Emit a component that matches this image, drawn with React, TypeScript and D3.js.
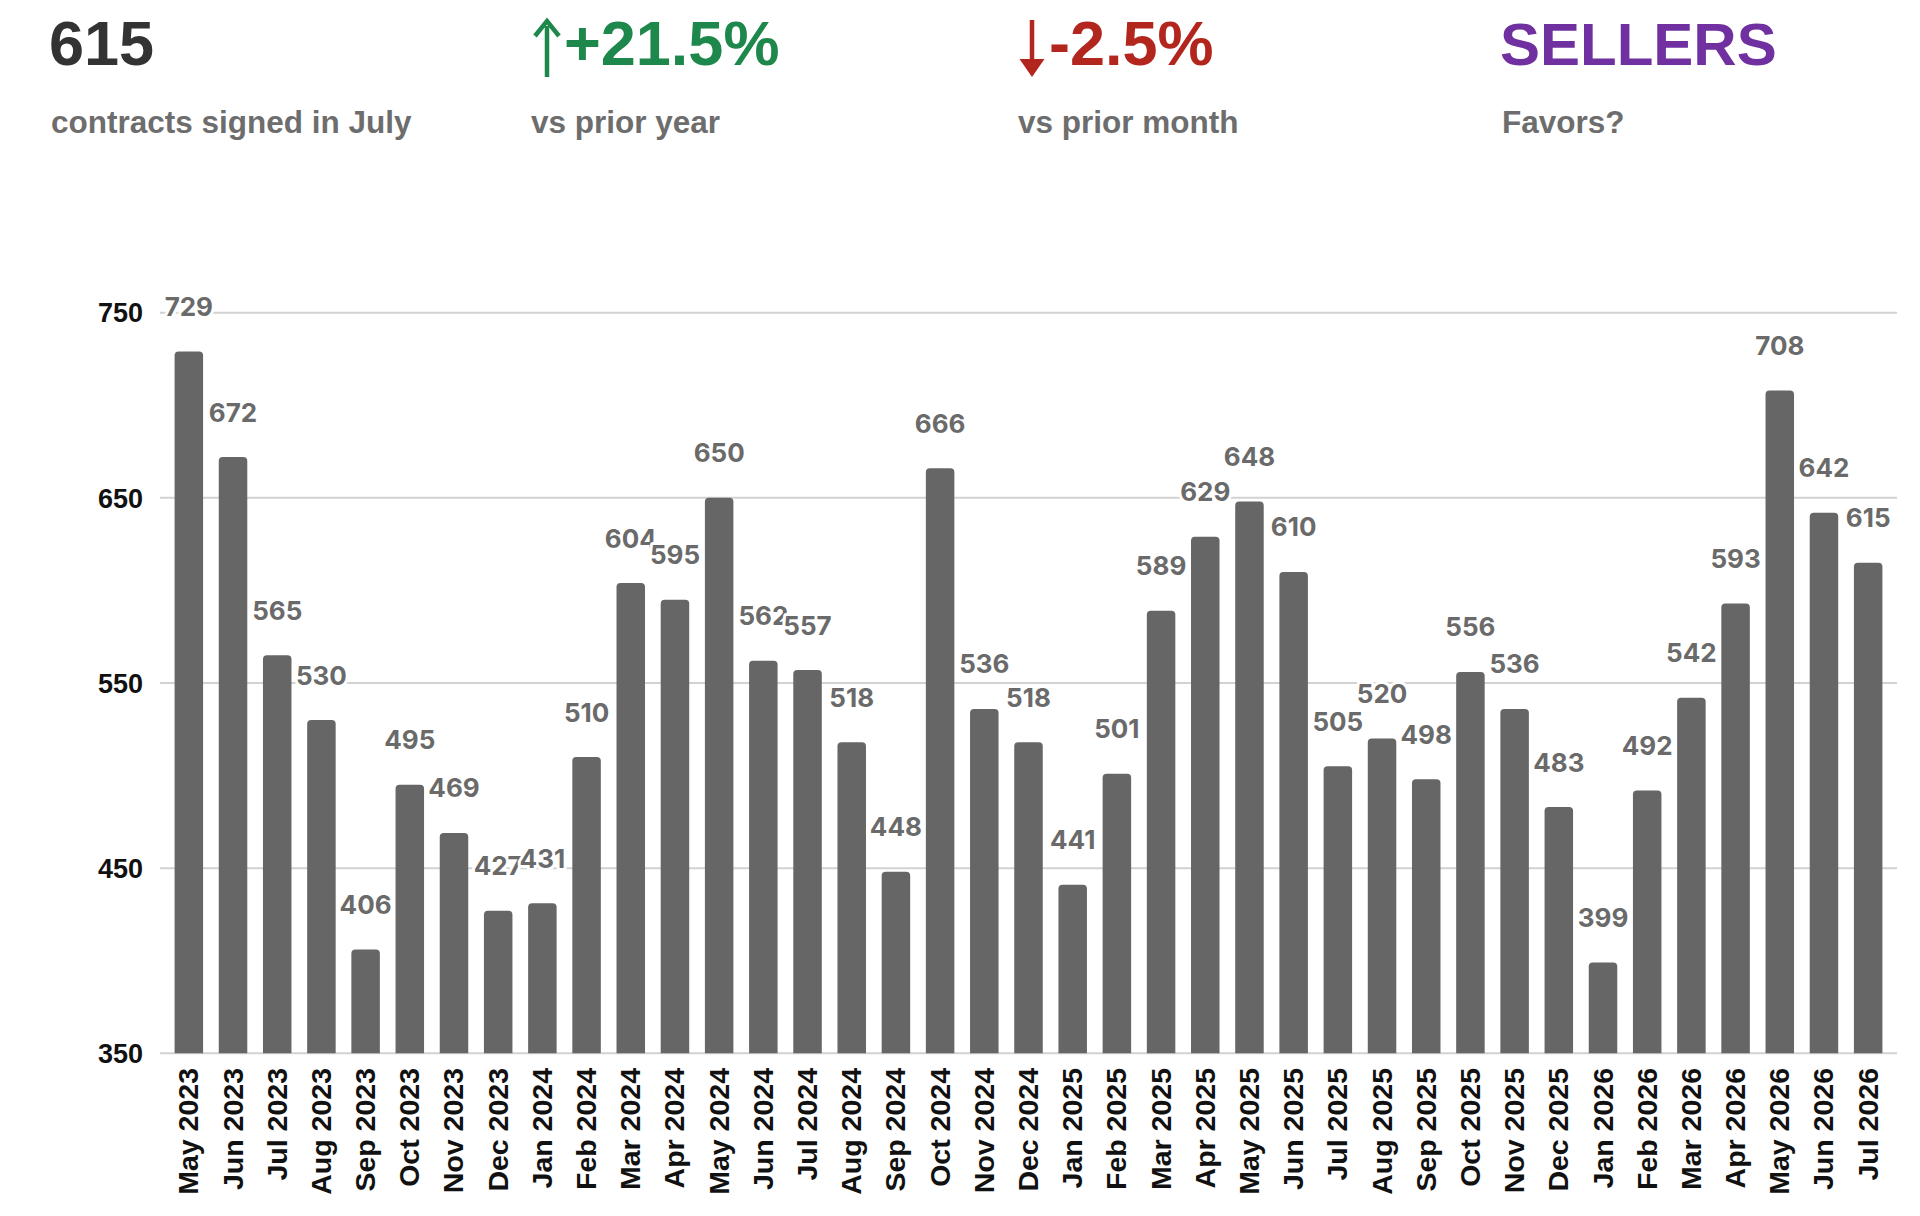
import { useEffect, useRef } from "react";
import * as d3 from "d3";

const months = [
  "May 2023", "Jun 2023", "Jul 2023", "Aug 2023", "Sep 2023", "Oct 2023", "Nov 2023", "Dec 2023",
  "Jan 2024", "Feb 2024", "Mar 2024", "Apr 2024", "May 2024", "Jun 2024", "Jul 2024", "Aug 2024",
  "Sep 2024", "Oct 2024", "Nov 2024", "Dec 2024",
  "Jan 2025", "Feb 2025", "Mar 2025", "Apr 2025", "May 2025", "Jun 2025", "Jul 2025", "Aug 2025",
  "Sep 2025", "Oct 2025", "Nov 2025", "Dec 2025",
  "Jan 2026", "Feb 2026", "Mar 2026", "Apr 2026", "May 2026", "Jun 2026", "Jul 2026",
];

const contracts = [
  729, 672, 565, 530, 406, 495, 469, 427,
  431, 510, 604, 595, 650, 562, 557, 518, 448, 666, 536, 518,
  441, 501, 589, 629, 648, 610, 505, 520, 498, 556, 536, 483,
  399, 492, 542, 593, 708, 642, 615,
];

const yTicks = [350, 450, 550, 650, 750];

const headline = [
  { value: "615", caption: "contracts signed in July", color: "#333333", arrow: "" },
  { value: "+21.5%", caption: "vs prior year", color: "#1e874b", arrow: "up" },
  { value: "-2.5%", caption: "vs prior month", color: "#b3261e", arrow: "down" },
  { value: "SELLERS", caption: "Favors?", color: "#7030a0", arrow: "" },
];

const WIDTH = 1920;
const HEIGHT = 1216;

const Chart = () => {
  const svgRef = useRef<SVGSVGElement | null>(null);

  useEffect(() => {
    const svg = d3.select(svgRef.current);
    svg.selectAll("*").remove();

    const left = 160;
    const right = 1897;
    const top = 312.7;
    const bottom = 1053.3;

    const x = d3
      .scaleBand<string>()
      .domain(months)
      .range([left, right])
      .paddingInner(0.355)
      .paddingOuter(0.33);

    const y = d3.scaleLinear().domain([350, 750]).range([bottom, top]);

    // header stats
    const colX = [49, 564, 1049, 1500];
    const capX = [51, 531, 1018, 1502];
    const head = svg.append("g").attr("font-family", "'Liberation Sans', Arial, sans-serif").attr("font-weight", 700);
    headline.forEach((h, i) => {
      head
        .append("text")
        .attr("x", colX[i])
        .attr("y", 65)
        .attr("font-size", i === 3 ? 60 : 63)
        .attr("fill", h.color)
        .text(h.value);
      head
        .append("text")
        .attr("x", capX[i])
        .attr("y", 133)
        .attr("font-size", 31.5)
        .attr("fill", "#6d6d6d")
        .text(h.caption);
      if (h.arrow === "up") {
        const ax = 547;
        head.append("line").attr("x1", ax).attr("x2", ax).attr("y1", 77).attr("y2", 26)
          .attr("stroke", h.color).attr("stroke-width", 4.5);
        head.append("path").attr("d", `M${ax - 12},36 L${ax},21 L${ax + 12},36`)
          .attr("fill", "none").attr("stroke", h.color).attr("stroke-width", 4.5);
      }
      if (h.arrow === "down") {
        const ax = 1032;
        head.append("line").attr("x1", ax).attr("x2", ax).attr("y1", 20).attr("y2", 70)
          .attr("stroke", h.color).attr("stroke-width", 4.5);
        head.append("path").attr("d", `M${ax - 12.5},59 L${ax},77 L${ax + 12.5},59 Z`)
          .attr("fill", h.color);
      }
    });

    // gridlines
    svg
      .append("g")
      .selectAll("line")
      .data(yTicks)
      .join("line")
      .attr("x1", left)
      .attr("x2", right)
      .attr("y1", (d) => y(d))
      .attr("y2", (d) => y(d))
      .attr("stroke", "#d2d2d2")
      .attr("stroke-width", 2);

    // y tick labels
    svg
      .append("g")
      .selectAll("text")
      .data(yTicks)
      .join("text")
      .attr("x", 143)
      .attr("y", (d) => y(d))
      .attr("dy", "0.36em")
      .attr("text-anchor", "end")
      .attr("font-family", "'Liberation Sans', Arial, sans-serif")
      .attr("font-weight", 700)
      .attr("font-size", 27)
      .attr("fill", "#111")
      .text((d) => d);

    // bars with rounded tops
    const r = 4;
    const bw = x.bandwidth();
    svg
      .append("g")
      .selectAll("path")
      .data(contracts)
      .join("path")
      .attr("fill", "#666666")
      .attr("d", (d, i) => {
        const x0 = x(months[i]) as number;
        const x1 = x0 + bw;
        const yt = y(d);
        return `M${x0},${bottom} L${x0},${yt + r} Q${x0},${yt} ${x0 + r},${yt} L${x1 - r},${yt} Q${x1},${yt} ${x1},${yt + r} L${x1},${bottom} Z`;
      });

    // value labels
    svg
      .append("g")
      .selectAll("text")
      .data(contracts)
      .join("text")
      .attr("x", (_, i) => (x(months[i]) as number) + bw / 2)
      .attr("y", (d) => y(d) - 35.5)
      .attr("text-anchor", "middle")
      .attr("font-family", "Inter, Roboto, sans-serif")
      .attr("font-weight", 700)
      .attr("font-size", 26)
      .attr("fill", "#6a6a6a")
      .attr("stroke", "#ffffff")
      .attr("stroke-width", 6)
      .attr("stroke-linejoin", "round")
      .attr("paint-order", "stroke")
      .text((d) => d);

    // x labels
    svg
      .append("g")
      .selectAll("text")
      .data(months)
      .join("text")
      .attr("transform", (d) => `translate(${(x(d) as number) + bw / 2 + 9.5},1068) rotate(-90)`)
      .attr("text-anchor", "end")
      .attr("font-family", "'Liberation Sans', Arial, sans-serif")
      .attr("font-weight", 700)
      .attr("font-size", 28.5)
      .attr("fill", "#111")
      .text((d) => d);
  }, []);

  return <svg ref={svgRef} width={WIDTH} height={HEIGHT} viewBox={`0 0 ${WIDTH} ${HEIGHT}`} style={{ display: "block" }} />;
};

export default function App() {
  return (
    <div style={{ position: "absolute", left: 0, top: 0, background: "#fff" }}>
      <Chart />
    </div>
  );
}
